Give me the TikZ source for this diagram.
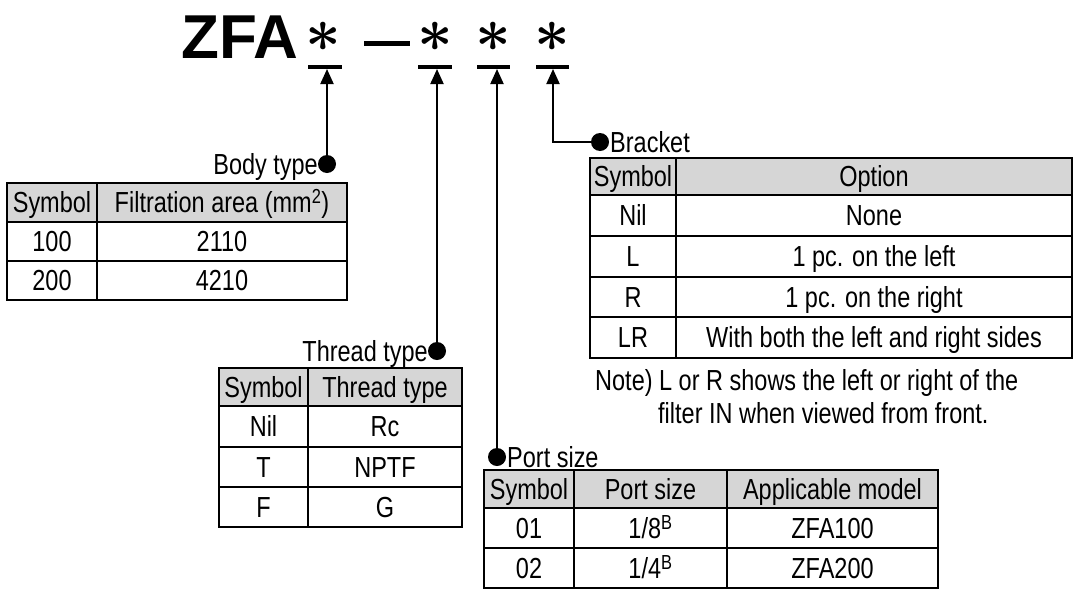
\documentclass[tikz,border=0pt]{standalone}
\usepackage{fontspec}
\setmainfont{Liberation Sans}[FakeStretch=0.81]
\newfontfamily\titlefont{Liberation Sans}
\usetikzlibrary{arrows.meta}
\definecolor{headgray}{gray}{0.84}

\begin{document}
\begin{tikzpicture}[x=1pt,y=-1pt,
  txt/.style={font=\fontsize{29}{33}\selectfont,inner sep=0pt,text height=20.8pt,text depth=0pt},
  grid/.style={line width=2.6pt},
  head/.style={fill=headgray},
  dot/.style={circle,fill=black,inner sep=0pt,minimum size=18pt},
  arr/.style={line width=2pt,-{Triangle[width=13pt,length=15pt]}},
  bar/.style={line width=4pt},
  star/.style={scale=6.2,inner sep=0pt,font=\boldmath}]
\useasboundingbox (0,0) rectangle (1074,592);

% model code
\node[anchor=base west,inner sep=0pt,font=\titlefont\bfseries\fontsize{62}{62}\selectfont] (zfa) at (181,58) {ZFA};
\node[star] (s1) at (323.5,37) {$\ast$};
\node[star] (s2) at (435,37) {$\ast$};
\node[star] (s3) at (493.5,37) {$\ast$};
\node[star] (s4) at (552,37) {$\ast$};
\draw[line width=5pt] (364,43) -- (410,43);
\draw[bar] (308,67) -- (342,67);
\draw[bar] (418,67) -- (452,67);
\draw[bar] (477,67) -- (510,67);
\draw[bar] (536,67) -- (569,67);
\coordinate (bodybar) at (327,69);
\coordinate (threadbar) at (437,69);
\coordinate (portbar) at (497,69);
\coordinate (brbar) at (553,69);

% leaders
\node[dot] (bodydot) at (327,164) {};
\node[dot] (threaddot) at (437,351) {};
\node[dot] (portdot) at (497,457) {};
\node[dot] (brdot) at (600,142) {};
\draw[arr] (bodydot.center) -- (bodybar);
\draw[arr] (threaddot.center) -- (threadbar);
\draw[arr] (portdot.center) -- (portbar);
\draw[arr] (brdot.center) -| (brbar);
\node[txt,anchor=east] (bodylbl) at (318,164) {Body type};
\node[txt,anchor=east] (threadlbl) at (428,351) {Thread type};
\node[txt,anchor=west] (portlbl) at (507,457) {Port size};
\node[txt,anchor=west] (brlbl) at (610,142) {Bracket};

% body type
\fill[head] (7,183) rectangle (347,222);
\draw[grid] (7,183) rectangle (347,300);
\draw[grid] (7,222) -- (347,222) (7,261) -- (347,261) (97,183) -- (97,300);
\node[txt] (bt-h1) at (52,202.5) {Symbol};
\node[txt] (bt-h2) at (222,202.5) {Filtration area (mm\textsuperscript{2})};
\node[txt] (bt-a1) at (52,241.5) {100};
\node[txt] (bt-a2) at (222,241.5) {2110};
\node[txt] (bt-b1) at (52,280.5) {200};
\node[txt] (bt-b2) at (222,280.5) {4210};

% thread type
\fill[head] (219,368) rectangle (462,406);
\draw[grid] (219,368) rectangle (462,527);
\draw[grid] (219,406) -- (462,406) (219,447) -- (462,447) (219,487) -- (462,487) (308,368) -- (308,527);
\node[txt] (tt-h1) at (263.5,387) {Symbol};
\node[txt] (tt-h2) at (385,387) {Thread type};
\node[txt] (tt-a1) at (263.5,426.5) {Nil};
\node[txt] (tt-a2) at (385,426.5) {Rc};
\node[txt] (tt-b1) at (263.5,467) {T};
\node[txt] (tt-b2) at (385,467) {NPTF};
\node[txt] (tt-c1) at (263.5,507) {F};
\node[txt] (tt-c2) at (385,507) {G};

% port size
\fill[head] (484,470) rectangle (938,508);
\draw[grid] (484,470) rectangle (938,588);
\draw[grid] (484,508) -- (938,508) (484,548) -- (938,548) (574,470) -- (574,588) (727,470) -- (727,588);
\node[txt] (ps-h1) at (529,489) {Symbol};
\node[txt] (ps-h2) at (650.5,489) {Port size};
\node[txt] (ps-h3) at (832.5,489) {Applicable model};
\node[txt] (ps-a1) at (529,528) {01};
\node[txt] (ps-a2) at (650.5,528) {1/8\textsuperscript{B}};
\node[txt] (ps-a3) at (832.5,528) {ZFA100};
\node[txt] (ps-b1) at (529,568) {02};
\node[txt] (ps-b2) at (650.5,568) {1/4\textsuperscript{B}};
\node[txt] (ps-b3) at (832.5,568) {ZFA200};

% bracket
\fill[head] (590,158) rectangle (1072,195);
\draw[grid] (590,158) rectangle (1072,358);
\draw[grid] (590,195) -- (1072,195) (590,236) -- (1072,236) (590,277) -- (1072,277) (590,317) -- (1072,317) (676,158) -- (676,358);
\node[txt] (br-h1) at (633,176.5) {Symbol};
\node[txt] (br-h2) at (874,176.5) {Option};
\node[txt] (br-a1) at (633,215.5) {Nil};
\node[txt] (br-a2) at (874,215.5) {None};
\node[txt] (br-b1) at (633,256.5) {L};
\node[txt] (br-b2) at (874,256.5) {1 pc. on the left};
\node[txt] (br-c1) at (633,297) {R};
\node[txt] (br-c2) at (874,297) {1 pc. on the right};
\node[txt] (br-d1) at (633,337.5) {LR};
\node[txt] (br-d2) at (874,337.5) {With both the left and right sides};
\node[txt,anchor=west] (note1) at (595,380) {Note) L or R shows the left or right of the};
\node[txt,anchor=west] (note2) at (658,413) {filter IN when viewed from front.};
\end{tikzpicture}
\end{document}
